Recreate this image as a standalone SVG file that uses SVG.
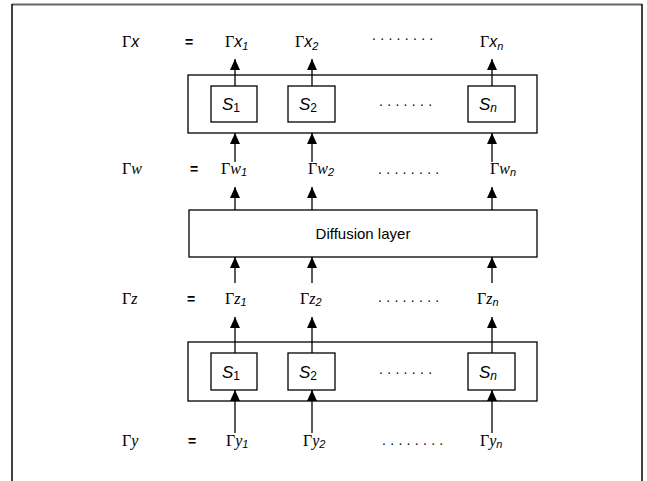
<svg xmlns="http://www.w3.org/2000/svg" width="647" height="481" viewBox="0 0 647 481">
<style>
.box{fill:#fff;stroke:#000;stroke-width:1.3}
.ln{stroke:#000;stroke-width:1.3;fill:none}
.t{font-family:"Liberation Sans",Arial,sans-serif;font-size:16px;fill:#000}
.g{font-family:"Liberation Serif","Times New Roman",serif;font-style:normal}
.vs{font-family:"Liberation Sans",Arial,sans-serif;font-style:italic}
.vt{font-family:"Liberation Serif","Times New Roman",serif;font-style:italic}
.sub{font-family:"Liberation Sans",Arial,sans-serif;font-style:italic;font-size:11px}
.eq{font-family:"Liberation Sans",Arial,sans-serif;font-weight:bold;font-size:14px}
.dots{font-family:"Liberation Sans",Arial,sans-serif;font-size:14px;letter-spacing:4.3px}
.s{font-family:"Liberation Sans",Arial,sans-serif;font-style:italic;font-size:17px}
.sn{font-family:"Liberation Sans",Arial,sans-serif;font-size:12px}
.lbl{font-family:"Liberation Sans",Arial,sans-serif;font-size:15px;text-anchor:middle}
</style>
<defs>
<marker id="ah" markerUnits="userSpaceOnUse" markerWidth="12" markerHeight="12" viewBox="0 0 12 12" refX="11" refY="6" orient="auto">
<path d="M0,1 L11,6 L0,11 Z" fill="#000"/>
</marker>
</defs>
<g id="frame">
<line x1="12" y1="4.5" x2="642" y2="4.5" stroke="#666" stroke-width="2"/>
<line x1="12" y1="4" x2="12" y2="481" stroke="#000" stroke-width="1.5"/>
<line x1="642" y1="4" x2="642" y2="481" stroke="#000" stroke-width="1.5"/>
</g>
<g id="row-x">
<text class="t" x="122" y="47"><tspan class="g">Γ</tspan><tspan class="vs">x</tspan></text>
<text class="eq" x="185" y="47">=</text>
<text class="t" x="225" y="47"><tspan class="g">Γ</tspan><tspan class="vs">x</tspan><tspan class="sub" dy="3">1</tspan></text>
<text class="t" x="295" y="47"><tspan class="g">Γ</tspan><tspan class="vs">x</tspan><tspan class="sub" dy="3">2</tspan></text>
<text class="dots" x="372" y="40">........</text>
<text class="t" x="480" y="47"><tspan class="g">Γ</tspan><tspan class="vs">x</tspan><tspan class="sub" dy="3">n</tspan></text>
</g>
<g id="top-layer">
<rect class="box" x="188" y="75" width="349" height="58"/>
<g id="top-s1"><rect class="box" x="211" y="86" width="46" height="36"/><text x="222" y="110"><tspan class="s">S</tspan><tspan class="sn" dy="2">1</tspan></text></g>
<g id="top-s2"><rect class="box" x="288" y="86" width="47" height="36"/><text x="299" y="110"><tspan class="s">S</tspan><tspan class="sn" dy="2">2</tspan></text></g>
<text class="dots" x="379" y="106">.......</text>
<g id="top-sn"><rect class="box" x="468" y="86" width="47" height="36"/><text x="479" y="110"><tspan class="s">S</tspan><tspan class="sn" dy="2" font-style="italic">n</tspan></text></g>
</g>
<g id="row-w">
<text class="t" x="122" y="174"><tspan class="g">Γ</tspan><tspan class="vt">w</tspan></text>
<text class="eq" x="190" y="174">=</text>
<text class="t" x="221" y="174"><tspan class="g">Γ</tspan><tspan class="vt">w</tspan><tspan class="sub" dy="2">1</tspan></text>
<text class="t" x="308" y="174"><tspan class="g">Γ</tspan><tspan class="vt">w</tspan><tspan class="sub" dy="2">2</tspan></text>
<text class="dots" x="378" y="174">........</text>
<text class="t" x="490" y="174"><tspan class="g">Γ</tspan><tspan class="vt">w</tspan><tspan class="sub" dy="2">n</tspan></text>
</g>
<g id="diffusion">
<rect class="box" x="189" y="210" width="348" height="47"/>
<text class="lbl" x="363" y="239">Diffusion layer</text>
</g>
<g id="row-z">
<text class="t" x="122" y="304"><tspan class="g">Γ</tspan><tspan class="vt">z</tspan></text>
<text class="eq" x="187" y="304">=</text>
<text class="t" x="225" y="304"><tspan class="g">Γ</tspan><tspan class="vt">z</tspan><tspan class="sub" dy="2">1</tspan></text>
<text class="t" x="300" y="304"><tspan class="g">Γ</tspan><tspan class="vt">z</tspan><tspan class="sub" dy="2">2</tspan></text>
<text class="dots" x="378" y="302">........</text>
<text class="t" x="477" y="304"><tspan class="g">Γ</tspan><tspan class="vt">z</tspan><tspan class="sub" dy="2">n</tspan></text>
</g>
<g id="bottom-layer">
<rect class="box" x="188" y="342" width="349" height="59"/>
<g id="bot-s1"><rect class="box" x="211" y="353" width="46" height="37"/><text x="222" y="378"><tspan class="s">S</tspan><tspan class="sn" dy="2">1</tspan></text></g>
<g id="bot-s2"><rect class="box" x="288" y="353" width="47" height="37"/><text x="299" y="378"><tspan class="s">S</tspan><tspan class="sn" dy="2">2</tspan></text></g>
<text class="dots" x="379" y="374">.......</text>
<g id="bot-sn"><rect class="box" x="468" y="353" width="47" height="37"/><text x="479" y="378"><tspan class="s">S</tspan><tspan class="sn" dy="2" font-style="italic">n</tspan></text></g>
</g>
<g id="row-y">
<text class="t" x="122" y="446"><tspan class="g">Γ</tspan><tspan class="vt">y</tspan></text>
<text class="eq" x="188" y="446">=</text>
<text class="t" x="226" y="446"><tspan class="g">Γ</tspan><tspan class="vt">y</tspan><tspan class="sub" dy="2">1</tspan></text>
<text class="t" x="303" y="446"><tspan class="g">Γ</tspan><tspan class="vt">y</tspan><tspan class="sub" dy="2">2</tspan></text>
<text class="dots" x="382" y="445">........</text>
<text class="t" x="480" y="446"><tspan class="g">Γ</tspan><tspan class="vt">y</tspan><tspan class="sub" dy="2">n</tspan></text>
</g>
<g id="connectors" class="ln" marker-end="url(#ah)">
<line x1="235" y1="86" x2="235" y2="59"/>
<line x1="312" y1="86" x2="312" y2="59"/>
<line x1="492" y1="86" x2="492" y2="59"/>
<line x1="235" y1="162" x2="235" y2="133"/>
<line x1="312" y1="162" x2="312" y2="133"/>
<line x1="492" y1="162" x2="492" y2="133"/>
<line x1="235" y1="210" x2="235" y2="187"/>
<line x1="312" y1="210" x2="312" y2="187"/>
<line x1="492" y1="210" x2="492" y2="187"/>
<line x1="235" y1="283" x2="235" y2="257"/>
<line x1="312" y1="283" x2="312" y2="257"/>
<line x1="492" y1="283" x2="492" y2="257"/>
<line x1="235" y1="353" x2="235" y2="317"/>
<line x1="312" y1="353" x2="312" y2="317"/>
<line x1="492" y1="353" x2="492" y2="317"/>
<line x1="235" y1="433" x2="235" y2="390"/>
<line x1="312" y1="433" x2="312" y2="390"/>
<line x1="492" y1="433" x2="492" y2="390"/>
</g>
</svg>
